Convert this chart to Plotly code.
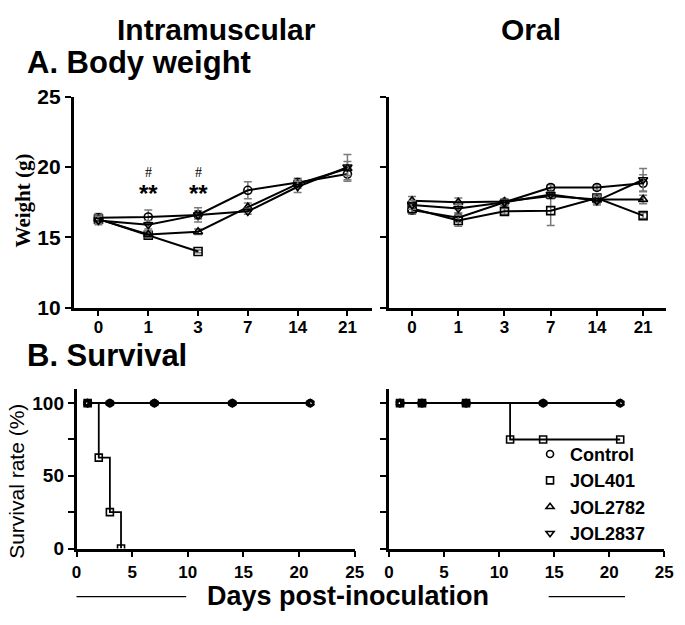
import plotly.graph_objects as go

# ---------------- data ----------------
days_cat = ["0", "1", "3", "7", "14", "21"]
groups = ["Control", "JOL401", "JOL2782", "JOL2837"]
symbols = ["circle-open", "square-open", "triangle-up-open", "triangle-down-open"]

# Intramuscular body weight (g)
im_control = [16.4, 16.45, 16.6, 18.35, 18.9, 19.5]
im_jol401 = [16.3, 15.15, 14.0, None, None, None]
im_jol2782 = [16.3, 15.2, 15.4, 17.15, 18.8, 19.9]
im_jol2837 = [16.2, 15.9, 16.6, 16.85, 18.6, 20.0]
im_err_control = [0.3, 0.5, 0.3, 0.6, 0.3, 0.5]
im_err_jol401 = [0.3, 0.2, 0.1, 0, 0, 0]
im_err_jol2782 = [0.3, 0.2, 0.2, 0.3, 0.3, 0.5]
im_err_jol2837 = [0.3, 0.3, 0.5, 0.2, 0.4, 0.9]

# Oral body weight (g)
or_control = [16.95, 16.4, 17.5, 18.55, 18.55, 18.85]
or_jol401 = [17.05, 16.2, 16.85, 16.9, 17.8, 16.55]
or_jol2782 = [17.6, 17.5, 17.55, 17.95, 17.7, 17.7]
or_jol2837 = [17.3, 17.05, 17.5, 18.05, 17.6, 19.1]
or_err_control = [0.3, 0.3, 0.2, 0.2, 0.2, 0.6]
or_err_jol401 = [0.3, 0.4, 0.2, 1.05, 0.2, 0.2]
or_err_jol2782 = [0.3, 0.3, 0.2, 0.2, 0.3, 0.3]
or_err_jol2837 = [0.3, 0.3, 0.2, 0.2, 0.3, 0.8]

# Survival (%)
im_surv_days = [[1, 3, 7, 14, 21], [1, 2, 3, 4], [1, 3, 7, 14, 21], [1, 3, 7, 14, 21]]
im_surv_vals = [[100, 100, 100, 100, 100], [100, 62.5, 25, 0], [100, 100, 100, 100, 100], [100, 100, 100, 100, 100]]
or_surv_days = [[1, 3, 7, 14, 21], [1, 3, 7, 11, 14, 21], [1, 3, 7, 14, 21], [1, 3, 7, 14, 21]]
or_surv_vals = [[100, 100, 100, 100, 100], [100, 100, 100, 75, 75, 75], [100, 100, 100, 100, 100], [100, 100, 100, 100, 100]]

sig_days = [1, 2]  # category indices for day 1 and day 3

# ---------------- figure ----------------
W, H = 685, 625
def px_x(a, b):
    return [a / W, b / W]
def px_y(top, bottom):
    return [1 - bottom / H, 1 - top / H]

ARIAL = "Liberation Sans, Arial, sans-serif"
SERIF = "Liberation Serif, Times New Roman, serif"

fig = go.Figure()
xi = list(range(len(days_cat)))

im_sets = [(im_control, im_err_control), (im_jol401, im_err_jol401),
           (im_jol2782, im_err_jol2782), (im_jol2837, im_err_jol2837)]
or_sets = [(or_control, or_err_control), (or_jol401, or_err_jol401),
           (or_jol2782, or_err_jol2782), (or_jol2837, or_err_jol2837)]

mk = dict(size=8, color="black", line=dict(width=1.6, color="black"))

for (vals, err), sym in zip(im_sets, symbols):
    fig.add_trace(go.Scatter(
        x=xi, y=vals, mode="lines+markers", xaxis="x", yaxis="y", showlegend=False,
        line=dict(color="black", width=2),
        marker=dict(symbol=sym, **mk),
        error_y=dict(type="data", array=err, color="#7a7a7a", thickness=1.5, width=4)))

for (vals, err), sym in zip(or_sets, symbols):
    fig.add_trace(go.Scatter(
        x=xi, y=vals, mode="lines+markers", xaxis="x2", yaxis="y2", showlegend=False,
        line=dict(color="black", width=2),
        marker=dict(symbol=sym, **mk),
        error_y=dict(type="data", array=err, color="#7a7a7a", thickness=1.5, width=4)))

smk = dict(size=7, color="black", line=dict(width=1.6, color="black"))
for d, v, sym in zip(im_surv_days, im_surv_vals, symbols):
    fig.add_trace(go.Scatter(
        x=d, y=v, mode="lines+markers", xaxis="x3", yaxis="y3", showlegend=False,
        line=dict(color="black", width=1.8, shape="hv"),
        marker=dict(symbol=sym, **smk)))

for d, v, sym in zip(or_surv_days, or_surv_vals, symbols):
    fig.add_trace(go.Scatter(
        x=d, y=v, mode="lines+markers", xaxis="x4", yaxis="y4", showlegend=False,
        line=dict(color="black", width=1.8, shape="hv"),
        marker=dict(symbol=sym, **smk)))

# legend entries
for g, sym in zip(groups, symbols):
    fig.add_trace(go.Scatter(
        x=[None], y=[None], mode="markers", name=g, xaxis="x4", yaxis="y4",
        marker=dict(symbol=sym, size=7, color="black", line=dict(width=1.6, color="black"))))

axis_common = dict(showline=True, linecolor="black", linewidth=2.5, ticks="outside",
                   ticklen=6, tickwidth=2.2, tickcolor="black", showgrid=False,
                   zeroline=False, fixedrange=True)

xt_font = dict(family=ARIAL, size=17, color="black", weight="bold")
yt_font = dict(family=ARIAL, size=21, color="black", weight="bold")
ys_font = dict(family=ARIAL, size=19, color="black", weight="bold")

fig.update_layout(
    width=W, height=H, margin=dict(l=0, r=0, t=0, b=0),
    paper_bgcolor="white", plot_bgcolor="white",
    xaxis=dict(domain=px_x(70, 375), anchor="y", range=[-0.5, 5.5], tickvals=xi,
               ticktext=days_cat, tickfont=xt_font, ticklabelstandoff=-4, **axis_common),
    yaxis=dict(domain=px_y(88, 307), anchor="x", range=[10, 25], tickvals=[10, 15, 20, 25],
               tickfont=yt_font, **axis_common),
    xaxis2=dict(domain=px_x(392, 675), anchor="y2", range=[-0.5, 5.5], tickvals=xi,
                ticktext=days_cat, tickfont=xt_font, ticklabelstandoff=-4, **axis_common),
    yaxis2=dict(domain=px_y(88, 307), anchor="x2", range=[10, 25], tickvals=[10, 15, 20, 25],
                showticklabels=False, **axis_common),
    xaxis3=dict(domain=px_x(73, 357), anchor="y3", range=[0, 25], tickvals=[0, 5, 10, 15, 20, 25],
                tickfont=xt_font, **axis_common),
    yaxis3=dict(domain=px_y(391, 557), anchor="x3", range=[0, 110], tickvals=[0, 25, 50, 75, 100],
                ticktext=["0", "", "50", "", "100"], tickfont=ys_font, **axis_common),
    xaxis4=dict(domain=px_x(392, 673), anchor="y4", range=[0, 25], tickvals=[0, 5, 10, 15, 20, 25],
                tickfont=xt_font, **axis_common),
    yaxis4=dict(domain=px_y(391, 557), anchor="x4", range=[0, 110], tickvals=[0, 25, 50, 75, 100],
                showticklabels=False, **axis_common),
    legend=dict(x=536 / W, y=1 - 440 / H, xanchor="left", yanchor="top",
                font=dict(family=ARIAL, size=18, color="black", weight="bold"),
                bgcolor="rgba(0,0,0,0)", itemwidth=30, tracegroupgap=0),
    showlegend=True,
)

title_font = dict(family=ARIAL, size=30, color="black", weight="bold")
ann = [
    dict(text="Intramuscular", x=216 / W, y=1 - 18 / H, xanchor="center", yanchor="middle", font=title_font),
    dict(text="Oral", x=537 / W, y=1 - 18 / H, xanchor="center", yanchor="middle", font=title_font),
    dict(text="A. Body weight", x=20 / W, y=1 - 52 / H, xanchor="left", yanchor="middle",
         font=dict(family=ARIAL, size=31, color="black", weight="bold")),
    dict(text="B. Survival", x=20 / W, y=1 - 357 / H, xanchor="left", yanchor="middle",
         font=dict(family=ARIAL, size=31, color="black", weight="bold")),
    dict(text="Days post-inoculation", x=350 / W, y=1 - 606 / H, xanchor="center", yanchor="middle",
         font=dict(family=ARIAL, size=27, color="black", weight="bold")),
    dict(text="Weight (g)", x=18 / W, y=1 - 196 / H, xanchor="center", yanchor="middle", textangle=-90,
         font=dict(family=SERIF, size=21, color="black", weight="bold")),
    dict(text="Survival rate (%)", x=11 / W, y=1 - 487 / H, xanchor="center", yanchor="middle", textangle=-90,
         font=dict(family=ARIAL, size=21, color="black")),
]
for a in ann:
    a.update(xref="paper", yref="paper", showarrow=False)
    fig.add_annotation(**a)

for d in sig_days:
    fig.add_annotation(x=d, y=18.1, xref="x", yref="y", text="**", showarrow=False,
                       font=dict(family=ARIAL, size=24, color="black", weight="bold"), yanchor="middle")
    fig.add_annotation(x=d, y=19.6, xref="x", yref="y", text="#", showarrow=False,
                       font=dict(family=SERIF, size=14, color="black"), yanchor="middle")

# decorative rules beside the shared x title
for x0, x1 in [(73, 185), (555, 633)]:
    fig.add_shape(type="line", xref="paper", yref="paper", x0=x0 / W, x1=x1 / W,
                  y0=1 - 607 / H, y1=1 - 607 / H, line=dict(color="black", width=1.2))

fig.write_html("out.html", config={"displayModeBar": False},
               post_script="document.body.style.margin='0px';document.body.style.overflow='hidden';")
